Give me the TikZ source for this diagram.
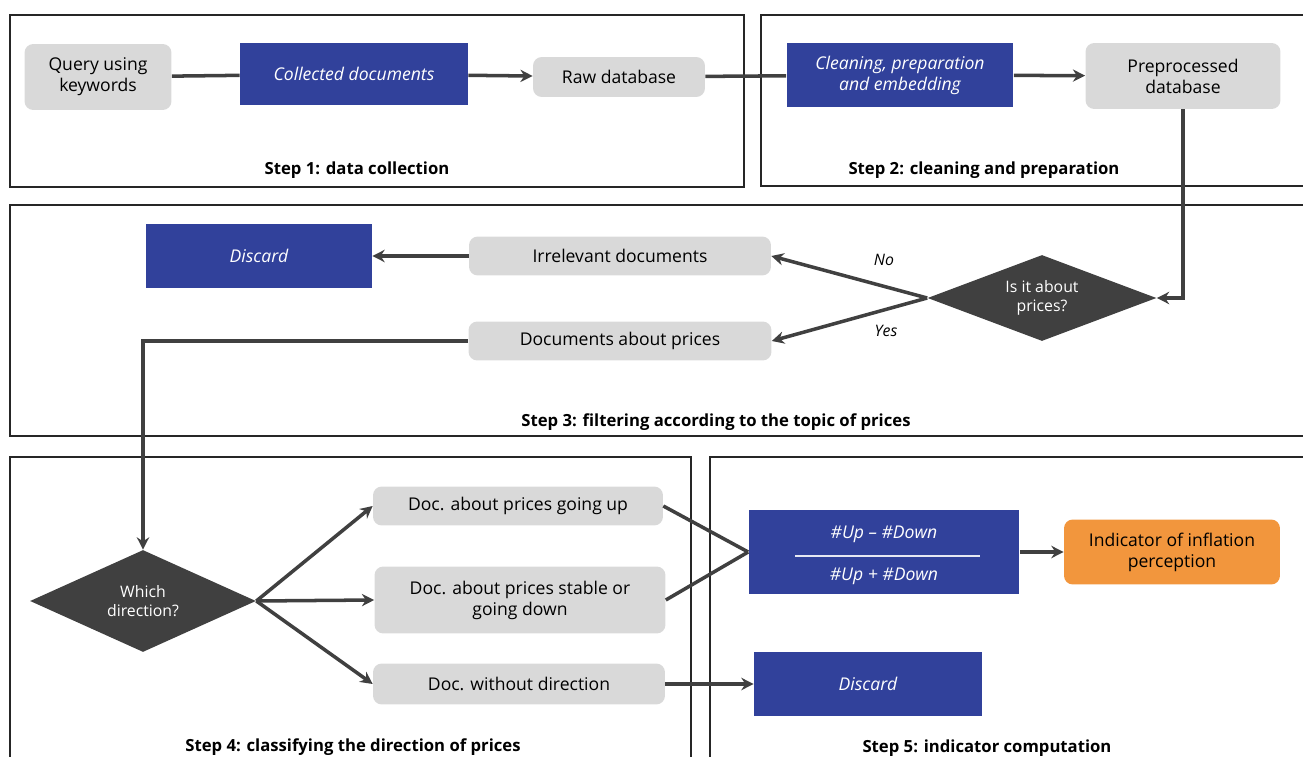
\documentclass[tikz,border=0pt]{standalone}
\usepackage{fontspec}
\setmainfont{Open Sans}
\usepackage{xcolor}
\usetikzlibrary{arrows.meta,positioning,shapes.geometric}
\definecolor{dblue}{RGB}{49,65,155}
\definecolor{lgray}{RGB}{217,217,217}
\definecolor{dgray}{RGB}{64,64,64}
\definecolor{orng}{RGB}{242,150,61}

\begin{document}
\begin{tikzpicture}[
    x=0.02cm, y=-0.02cm,
    font=\fontsize{10}{12}\selectfont,
    grb/.style={fill=lgray, rounded corners=5pt, align=center, inner sep=2pt},
    blu/.style={fill=dblue, text=white, align=center, inner sep=2pt,
                font=\fontsize{10}{12}\selectfont\itshape},
    dia/.style={diamond, fill=dgray, text=white, align=center, inner sep=0pt,
                font=\fontsize{9}{11}\selectfont},
    stp/.style={font=\fontsize{9.5}{11}\selectfont\bfseries},
    frm/.style={draw=black!85, line width=0.8pt},
    con/.style={draw=dgray, line width=2pt},
    arr/.style={con, -{Stealth[length=7pt,width=7pt]}},
    lbl/.style={font=\fontsize{9}{11}\selectfont\itshape},
    ]
\clip (0,0) rectangle (1303,757);
% frames of the five steps
\draw[frm] (10,15) rectangle (744,187);
\draw[frm] (761,15) rectangle (1320,186);
\draw[frm] (10,205) rectangle (1320,436);
\draw[frm] (10,457) rectangle (691,770);
\draw[frm] (710,457) rectangle (1320,770);

% step 1
\node[grb, minimum width=2.94cm, minimum height=1.32cm] (query) at (98,77) {Query using\\keywords};
\node[blu, minimum width=4.56cm, minimum height=1.26cm] (coll) at (354,74) {Collected documents};
\node[grb, minimum width=3.44cm, minimum height=0.8cm] (raw) at (619,77) {Raw database};
\node[stp] (s1) at (357,170) {Step 1: data collection};

% step 2
\node[blu, minimum width=4.54cm, minimum height=1.3cm] (clean) at (900,75) {Cleaning, preparation\\and embedding};
\node[grb, minimum width=3.9cm, minimum height=1.32cm] (prep) at (1183,76) {Preprocessed\\database};
\node[stp] (s2) at (984,170) {Step 2: cleaning and preparation};

% step 3
\node[dia, aspect=2.66, minimum width=4.58cm, minimum height=1.72cm] (isit) at (1042,298) {Is it about\\prices?};
\node[grb, minimum width=6.04cm, minimum height=0.78cm] (irr) at (620,256) {Irrelevant documents};
\node[grb, minimum width=6.06cm, minimum height=0.78cm] (docp) at (620,341) {Documents about prices};
\node[blu, minimum width=4.52cm, minimum height=1.28cm] (disc1) at (259,256) {Discard};
\node[lbl] (no) at (884,260) {No};
\node[lbl] (yes) at (886,331) {Yes};
\node[stp] (s3) at (716,422) {Step 3: filtering according to the topic of prices};

% step 4
\node[dia, aspect=2.2, minimum width=4.52cm, minimum height=2.04cm] (which) at (143,601) {Which\\direction?};
\node[grb, minimum width=5.8cm, minimum height=0.78cm] (up) at (518,506) {Doc. about prices going up};
\node[grb, minimum width=5.82cm, minimum height=1.34cm] (stable) at (520,600) {Doc. about prices stable or\\going down};
\node[grb, minimum width=5.84cm, minimum height=0.82cm] (nodir) at (519,684) {Doc. without direction};
\node[stp] (s4) at (353,747) {Step 4: classifying the direction of prices};

% step 5
\node[blu, minimum width=5.42cm, minimum height=1.7cm] (formula) at (884,552) {};
\node[text=white, font=\fontsize{10}{12}\selectfont\itshape] (fnum) at (884,534) {\#Up -- \#Down};
\node[text=white, font=\fontsize{10}{12}\selectfont\itshape] (fden) at (884,576) {\#Up + \#Down};
\draw[white!88!dblue, line width=0.8pt] (795,556) -- (980,556);
\node[grb, fill=orng, minimum width=4.32cm, minimum height=1.3cm] (ind) at (1172,552) {Indicator of inflation\\perception};
\node[blu, minimum width=4.56cm, minimum height=1.28cm] (disc2) at (868,684) {Discard};
\node[stp] (s5) at (987,748) {Step 5: indicator computation};

% connectors
\draw[con] (query) -- (coll);
\draw[arr] (coll) -- (raw);
\draw[con] (raw) -- (clean);
\draw[arr] (clean) -- (prep);
\draw[arr] (prep.south) |- (isit.east);
\draw[arr] (isit.west) -- (irr.east);
\draw[arr] (isit.west) -- (docp.east);
\draw[arr] (irr) -- (disc1);
\draw[arr] (docp.west) -| (which.north);
\draw[arr] (which.east) -- (up.west);
\draw[arr] (which.east) -- (stable.west);
\draw[arr] (which.east) -- (nodir.west);
\draw[con] (up.east) -- (formula.west);
\draw[con] (stable.east) -- (formula.west);
\draw[arr] (formula) -- (ind);
\draw[arr] (nodir) -- (disc2);
\end{tikzpicture}
\end{document}
